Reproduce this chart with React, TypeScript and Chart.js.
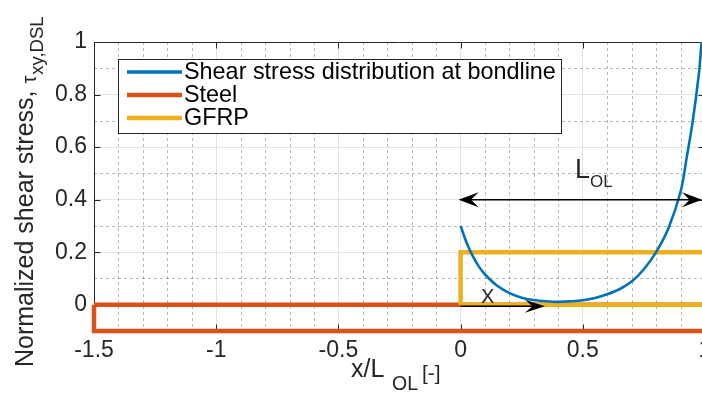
import React, { useEffect, useRef } from 'react';
import { Chart, registerables } from 'chart.js';

Chart.register(...registerables);

// ---- data ----
const CURVE_X = [0, 0.025, 0.05, 0.075, 0.1, 0.15, 0.2, 0.25, 0.3, 0.35, 0.4, 0.45, 0.5, 0.55, 0.6, 0.65, 0.7, 0.75, 0.8, 0.85, 0.9, 0.925, 0.95, 0.975, 0.986];
const CURVE_Y = [0.3, 0.235, 0.185, 0.145, 0.115, 0.072, 0.044, 0.027, 0.018, 0.013, 0.011, 0.013, 0.017, 0.026, 0.04, 0.059, 0.088, 0.135, 0.2, 0.29, 0.43, 0.56, 0.7, 0.88, 1.0];
const STEEL_X = [-1.5, 1, 1, -1.5, -1.5];
const STEEL_Y = [0, 0, -0.1, -0.1, 0];
const GFRP_X = [0, 1, 1, 0, 0];
const GFRP_Y = [0, 0, 0.2, 0.2, 0];
const SERIES_LABELS = ['Shear stress distribution at bondline', 'Steel', 'GFRP'];

const X_TICKS = [-1.5, -1, -0.5, 0, 0.5, 1];
const X_TICK_LABELS = ['-1.5', '-1', '-0.5', '0', '0.5', '1'];
const Y_TICKS = [0, 0.2, 0.4, 0.6, 0.8, 1];
const Y_TICK_LABELS = ['0', '0.2', '0.4', '0.6', '0.8', '1'];
const X_MINOR = [-1.4, -1.3, -1.2, -1.1, -0.9, -0.8, -0.7, -0.6, -0.4, -0.3, -0.2, -0.1, 0.1, 0.2, 0.3, 0.4, 0.6, 0.7, 0.8, 0.9];
const Y_MINOR = [0.1, 0.3, 0.5, 0.7, 0.9];

// annotation anchors (data coordinates)
const LOL_ARROW = { x0: 0, x1: 1, y: 0.4 };
const X_ARROW = { x0: 0, x1: 0.345, y: -0.006 };

const FONT = '"Liberation Sans", Arial, Helvetica, sans-serif';
const TXT = '#262626';
const BLUE = '#0072BD';
const ORANGE = '#D95319';
const YELLOW = '#EDB120';

function head(ctx: CanvasRenderingContext2D, tx: number, ty: number, dir: number, len: number, half: number) {
  ctx.beginPath();
  ctx.moveTo(tx, ty);
  ctx.lineTo(tx - dir * len, ty - half);
  ctx.lineTo(tx - dir * len * 0.62, ty);
  ctx.lineTo(tx - dir * len, ty + half);
  ctx.closePath();
  ctx.fill();
}

const decor = {
  id: 'decor',
  beforeDatasetsDraw(chart: any) {
    const { ctx, chartArea: a, scales } = chart;
    const x = scales.x, y = scales.y;
    ctx.save();
    ctx.beginPath();
    ctx.rect(a.left, a.top, a.right - a.left, a.bottom - a.top);
    ctx.clip();
    ctx.strokeStyle = 'rgba(38,38,38,0.32)';
    ctx.lineWidth = 1;
    ctx.setLineDash([3, 3]);
    for (const v of X_MINOR) {
      const px = Math.round(x.getPixelForValue(v)) + 0.5;
      ctx.beginPath(); ctx.moveTo(px, a.top); ctx.lineTo(px, a.bottom); ctx.stroke();
    }
    for (const v of Y_MINOR) {
      const py = Math.round(y.getPixelForValue(v)) + 0.5;
      ctx.beginPath(); ctx.moveTo(a.left, py); ctx.lineTo(a.right, py); ctx.stroke();
    }
    ctx.restore();

    ctx.save();
    ctx.strokeStyle = TXT;
    ctx.lineWidth = 1;
    const L = Math.round(a.left) + 0.5, T = Math.round(a.top) + 0.5;
    const R = Math.round(a.right) - 0.5, B = Math.round(a.bottom) - 0.5;
    ctx.beginPath();
    ctx.moveTo(L, B); ctx.lineTo(L, T); ctx.lineTo(R, T); ctx.lineTo(R, B); ctx.lineTo(L, B);
    ctx.stroke();
    const tl = 6;
    for (const v of X_TICKS) {
      const px = Math.round(x.getPixelForValue(v)) + 0.5;
      ctx.beginPath(); ctx.moveTo(px, B); ctx.lineTo(px, B - tl); ctx.stroke();
      ctx.beginPath(); ctx.moveTo(px, T); ctx.lineTo(px, T + tl); ctx.stroke();
    }
    for (const v of Y_TICKS) {
      const py = Math.round(y.getPixelForValue(v)) + 0.5;
      ctx.beginPath(); ctx.moveTo(L, py); ctx.lineTo(L + tl, py); ctx.stroke();
      ctx.beginPath(); ctx.moveTo(R, py); ctx.lineTo(R - tl, py); ctx.stroke();
    }
    ctx.restore();
  },
  afterDatasetsDraw(chart: any) {
    const { ctx, scales } = chart;
    const x = scales.x, y = scales.y;
    ctx.save();
    // L_OL double arrow
    ctx.strokeStyle = '#000';
    ctx.fillStyle = '#000';
    ctx.lineWidth = 1.5;
    const ay = y.getPixelForValue(LOL_ARROW.y);
    const ax0 = x.getPixelForValue(LOL_ARROW.x0), ax1 = x.getPixelForValue(LOL_ARROW.x1);
    ctx.beginPath(); ctx.moveTo(ax0 + 8, ay); ctx.lineTo(ax1 - 10, ay); ctx.stroke();
    head(ctx, ax0 - 2, ay, -1, 20, 7.5);
    head(ctx, ax1 - 3, ay, 1, 20, 7.5);
    // x arrow
    const by = y.getPixelForValue(X_ARROW.y);
    const bx0 = x.getPixelForValue(X_ARROW.x0), bx1 = x.getPixelForValue(X_ARROW.x1);
    ctx.beginPath(); ctx.moveTo(bx0, by); ctx.lineTo(bx1 - 8, by); ctx.stroke();
    head(ctx, bx1, by, 1, 20, 6.5);

    // annotation texts
    ctx.fillStyle = TXT;
    ctx.textBaseline = 'alphabetic';
    ctx.textAlign = 'left';
    ctx.font = `27px ${FONT}`;
    ctx.fillText('L', 575, 178);
    ctx.font = `17px ${FONT}`;
    ctx.fillText('OL', 590, 187);
    ctx.font = `20px ${FONT}`;
    ctx.fillText('X', 481, 303);

    // y title
    ctx.save();
    ctx.translate(33, 367);
    ctx.rotate(-Math.PI / 2);
    ctx.font = `25px ${FONT}`;
    const main = 'Normalized shear stress, ';
    ctx.fillText(main, 0, 0);
    let w = ctx.measureText(main).width;
    ctx.font = `20px ${FONT}`;
    ctx.fillText('τ', w, 3);
    w += ctx.measureText('τ').width + 1;
    ctx.font = `18.5px ${FONT}`;
    ctx.fillText('xy,DSL', w, 10);
    ctx.restore();

    // x title
    ctx.font = `25px ${FONT}`;
    ctx.fillText('x/L', 351, 377);
    ctx.font = `19.5px ${FONT}`;
    ctx.fillText('OL', 392, 390);
    ctx.font = `21px ${FONT}`;
    ctx.fillText('[-]', 422, 380);

    // legend
    const lx0 = 118, ly0 = 59, lx1 = 562, ly1 = 134;
    ctx.fillStyle = '#fff';
    ctx.fillRect(lx0, ly0, lx1 - lx0, ly1 - ly0);
    ctx.strokeStyle = TXT;
    ctx.lineWidth = 1;
    ctx.strokeRect(lx0 + 0.5, ly0 + 0.5, lx1 - lx0 - 1, ly1 - ly0 - 1);
    const ds = chart.data.datasets;
    const order = [0, 1, 2];
    ctx.font = `23.4px ${FONT}`;
    ctx.textBaseline = 'middle';
    order.forEach((di, i) => {
      const d = ds[di];
      const ry = 72 + i * 23;
      ctx.strokeStyle = d.borderColor;
      ctx.lineWidth = d.legendWidth;
      ctx.beginPath(); ctx.moveTo(127, ry); ctx.lineTo(182, ry); ctx.stroke();
      ctx.fillStyle = '#000';
      ctx.fillText(d.label, 184, ry + 1);
    });
    ctx.restore();
  },
};

export default function App() {
  const ref = useRef<HTMLCanvasElement | null>(null);
  useEffect(() => {
    if (!ref.current) return;
    const chart = new Chart(ref.current, {
      type: 'line',
      data: {
        datasets: [
          {
            label: SERIES_LABELS[0],
            data: CURVE_X.map((v, i) => ({ x: v, y: CURVE_Y[i] })),
            borderColor: BLUE,
            borderWidth: 2.6,
            legendWidth: 3.5,
            pointRadius: 0,
            tension: 0.35,
            order: 0,
          } as any,
          {
            label: SERIES_LABELS[1],
            data: STEEL_X.map((v, i) => ({ x: v, y: STEEL_Y[i] })),
            borderColor: ORANGE,
            borderWidth: 4.5,
            legendWidth: 4.5,
            borderJoinStyle: 'miter',
            pointRadius: 0,
            tension: 0,
            clip: 6,
            order: 2,
          } as any,
          {
            label: SERIES_LABELS[2],
            data: GFRP_X.map((v, i) => ({ x: v, y: GFRP_Y[i] })),
            borderColor: YELLOW,
            borderWidth: 4.5,
            legendWidth: 4.5,
            borderJoinStyle: 'miter',
            pointRadius: 0,
            tension: 0,
            clip: 6,
            order: 1,
          } as any,
        ],
      },
      options: {
        responsive: false,
        maintainAspectRatio: false,
        animation: false,
        events: [],
        layout: { padding: { left: 0, right: 7, top: 42, bottom: 0 } },
        plugins: { legend: { display: false }, tooltip: { enabled: false } },
        scales: {
          x: {
            type: 'linear',
            min: -1.5,
            max: 1,
            afterBuildTicks: (s: any) => { s.ticks = X_TICKS.map((v) => ({ value: v })); },
            afterFit: (s: any) => { s.height = 63; s.paddingLeft = 0; s.paddingRight = 0; },
            ticks: {
              autoSkip: false,
              maxRotation: 0,
              padding: 6,
              color: TXT,
              font: { family: FONT, size: 23 },
              callback: (v: any) => X_TICK_LABELS[X_TICKS.indexOf(Number(v))] ?? '',
            },
            grid: { color: 'rgba(38,38,38,0.13)', lineWidth: 1, drawTicks: false },
            border: { display: false },
          },
          y: {
            type: 'linear',
            min: -0.1,
            max: 1,
            afterBuildTicks: (s: any) => { s.ticks = Y_TICKS.map((v) => ({ value: v })); },
            afterFit: (s: any) => { s.width = 94; s.paddingTop = 0; s.paddingBottom = 0; },
            ticks: {
              autoSkip: false,
              padding: 7,
              color: TXT,
              font: { family: FONT, size: 23 },
              callback: (v: any) => Y_TICK_LABELS[Y_TICKS.indexOf(Number(v))] ?? '',
            },
            grid: { color: 'rgba(38,38,38,0.13)', lineWidth: 1, drawTicks: false },
            border: { display: false },
          },
        },
      },
      plugins: [decor],
    });
    return () => chart.destroy();
  }, []);
  return (
    <div style={{ position: 'fixed', left: 0, top: 0, width: 702, height: 394, overflow: 'hidden', background: '#fff' }}>
      <canvas ref={ref} width={712} height={394} style={{ width: 712, height: 394, display: 'block' }} />
    </div>
  );
}
